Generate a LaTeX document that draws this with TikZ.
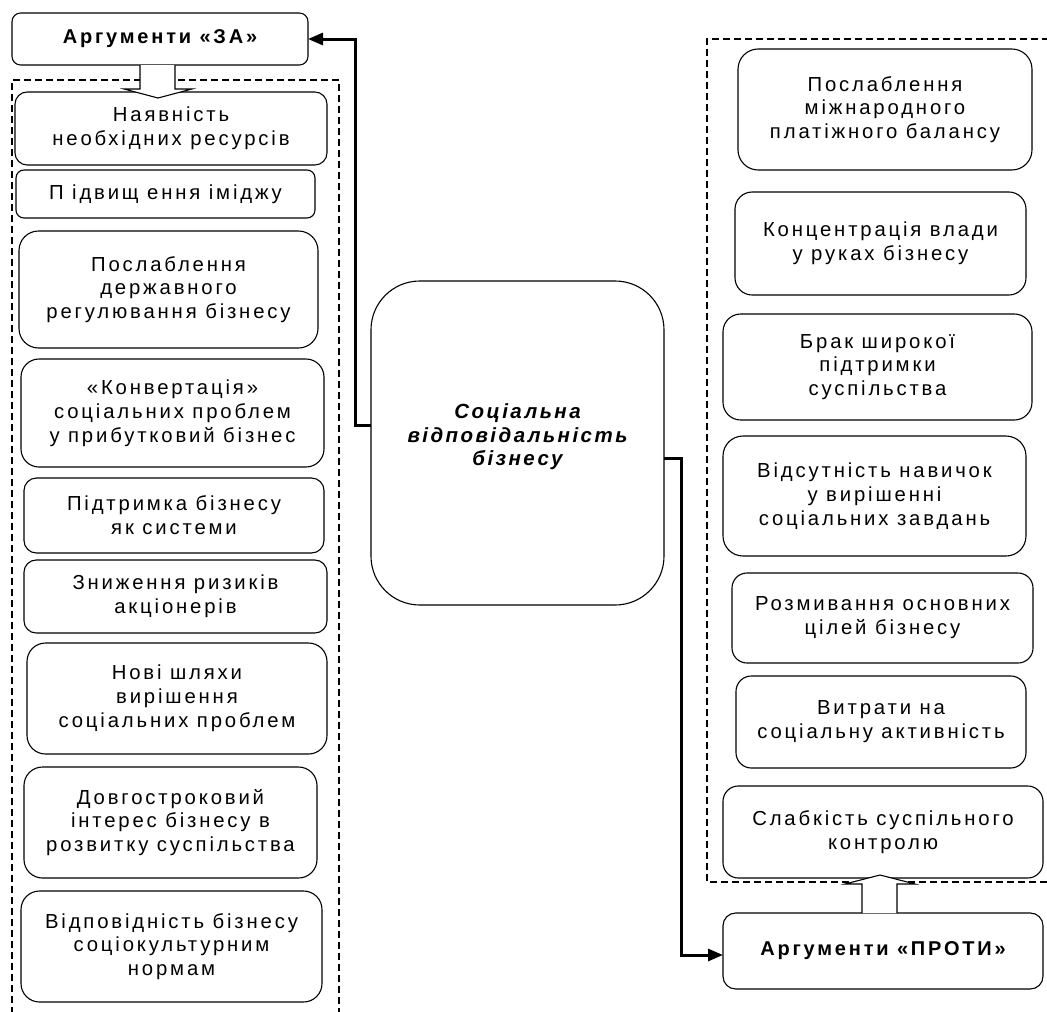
\documentclass[tikz,border=0pt]{standalone}
\usepackage{fontspec}
\setmainfont{Liberation Sans}[LetterSpace=14]
\usetikzlibrary{arrows.meta}
\tikzset{
  box/.style={draw=black, line width=1.1pt, fill=white, align=center, inner sep=0pt, outer sep=0pt,
    font=\fontsize{20.3}{23.8}\selectfont},
  head/.style={box, font=\fontsize{20}{23.8}\selectfont\bfseries},
  centre/.style={box, text depth=16pt, font=\fontsize{20.5}{23.5}\selectfont\addfontfeatures{LetterSpace=12}\bfseries\itshape},
  conn/.style={line width=3pt, -{Triangle[length=15pt,width=12pt]}},
  frame/.style={line width=2pt, dash pattern=on 7pt off 4pt},
  hollow/.style={draw=black, line width=1.1pt, fill=white},
}
\newcommand\mybox[7][box]{%
  \pgfmathsetmacro\bw{#5-#3}%
  \pgfmathsetmacro\bh{#6-#4}%
  \pgfmathsetmacro\br{0.1667*min(\bw,\bh)}%
  \node[#1, minimum width=\bw pt, minimum height=\bh pt, rounded corners=\br pt]
    (#2) at ({(#3+#5)/2},{(#4+#6)/2}) {#7};}
\begin{document}
\begin{tikzpicture}[x=1pt,y=-1pt]
\useasboundingbox (0,0) rectangle (1047,1012);
% dashed frames
\draw[frame] (12,1014) -- (12,80) -- (339,80) -- (339,1014);
\draw[frame] (1049,39) -- (707,39) -- (707,882) -- (1049,882);
% headers
\mybox[head]{za}{12}{13}{308}{65}{Аргументи «ЗА»}
\mybox[head]{pr}{723}{913}{1043}{989}{Аргументи «ПРОТИ»}
% left column
\mybox{l1}{15}{92}{327}{165}{Наявність\\необхідних ресурсів}
\mybox{l2}{16}{170}{315}{218}{П ідвищ ення іміджу}
\mybox{l3}{19}{231}{318}{348}{Послаблення\\державного\\регулювання бізнесу}
\mybox{l4}{21}{359}{324}{467}{«Конвертація»\\соціальних проблем\\у прибутковий бізнес}
\mybox{l5}{24}{478}{324}{553}{Підтримка бізнесу\\як системи}
\mybox{l6}{24}{560}{327}{633}{Зниження ризиків\\акціонерів}
\mybox{l7}{27}{643}{327}{754}{Нові шляхи\\вирішення\\соціальних проблем}
\mybox{l8}{24}{767}{317}{878}{Довгостроковий\\інтерес бізнесу в\\розвитку суспільства}
\mybox{l9}{21}{891}{322}{1002}{Відповідність бізнесу\\соціокультурним\\нормам}
% right column
\mybox{r1}{738}{49}{1032}{170}{Послаблення\\міжнародного\\платіжного балансу}
\mybox{r2}{735}{192}{1026}{295}{Концентрація влади\\у руках бізнесу}
\mybox{r3}{723}{314}{1032}{420}{Брак широкої\\підтримки\\суспільства}
\mybox{r4}{723}{436}{1026}{556}{Відсутність навичок\\у вирішенні\\соціальних завдань}
\mybox{r5}{732}{573}{1033}{663}{Розмивання основних\\цілей бізнесу}
\mybox{r6}{736}{676}{1026}{768}{Витрати на\\соціальну активність}
\mybox{r7}{723}{786}{1043}{878}{Слабкість суспільного\\контролю}
% centre
\mybox[centre]{cn}{371}{281}{664}{605}{Соціальна\\відповідальність\\бізнесу}
% hollow arrows
\draw[hollow] (za.south -| 140,0) -- (140,89) -- (124,89) -- (158,98) -- (192,89) -- (175,89) -- (za.south -| 175,0);
\draw[hollow] (pr.north -| 862,0) -- (862,884) -- (845,884) -- (880,875) -- (915,884) -- (897,884) -- (pr.north -| 897,0);
% connectors
\draw[conn] ([yshift=18pt]cn.west) -- ++(-16,0) |- (za.east);
\draw[conn] ([yshift=-15pt]cn.east) -- ++(17,0) |- ([yshift=-4pt]pr.west);
\end{tikzpicture}
\end{document}
